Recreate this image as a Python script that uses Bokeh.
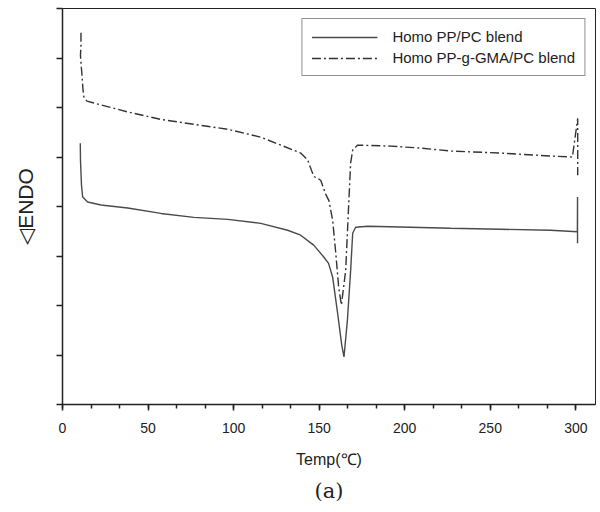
from bokeh.plotting import figure
from bokeh.models import Range1d, SingleIntervalTicker, FixedTicker, Legend, LegendItem, Title
from bokeh.embed import file_html
from bokeh.resources import INLINE

# Homo PP/PC blend (solid)
temp_pp_pc = [10.4, 10.5, 11.1, 11.8, 14.7, 22.5, 38.1, 57.5, 76.8, 96.6, 115.9, 131.6,
              139.2, 146.8, 152.7, 155.5, 157.9, 160.8, 163.2, 164.5, 166.5, 168.4, 169.6,
              171.3, 178.4, 203.5, 226.8, 256.0, 285.2, 300.9, 301.0, 301.0]
heat_pp_pc = [5.28, 4.94, 4.43, 4.19, 4.09, 4.03, 3.97, 3.86, 3.78, 3.74, 3.66, 3.52,
              3.42, 3.22, 2.98, 2.85, 2.57, 1.84, 1.20, 0.96, 1.70, 2.71, 3.46,
              3.58, 3.60, 3.58, 3.56, 3.54, 3.52, 3.49, 4.19, 3.26]

# Homo PP-g-GMA/PC blend (dash-dot)
temp_gma = [10.8, 10.8, 10.5, 10.8, 11.4, 12.0, 12.6, 14.3, 18.4, 38.2, 57.5, 76.8, 96.6,
            115.9, 127.6, 139.2, 143.3, 146.8, 150.9, 153.8, 155.7, 157.9, 159.7, 161.4,
            163.0, 165.5, 167.3, 168.4, 169.6, 172.5, 191.8, 209.3, 226.8, 256.0, 285.2,
            298.0, 301.1, 301.1]
heat_gma = [7.51, 7.26, 7.06, 6.90, 6.65, 6.35, 6.19, 6.13, 6.09, 5.91, 5.76, 5.66, 5.56,
            5.40, 5.24, 5.08, 4.94, 4.61, 4.53, 4.25, 4.12, 3.72, 3.06, 2.37,
            2.01, 2.71, 4.07, 4.88, 5.14, 5.24, 5.22, 5.18, 5.12, 5.08, 5.02,
            5.00, 5.78, 4.63]

series_labels = ["Homo PP/PC blend", "Homo PP-g-GMA/PC blend"]
x_title = "Temp(\u2103)"
y_title = "\u25c1ENDO"
caption = "(a)"
y_ticks = [0, 1, 2, 3, 4, 5, 6, 7, 8]

FONT = "Liberation Sans"

p = figure(width=596, height=508, x_range=Range1d(0, 311.5), y_range=Range1d(0, 8),
           output_backend="svg", toolbar_location=None,
           min_border_left=62, min_border_right=1, min_border_top=8, min_border_bottom=0)
p.background_fill_color = "white"
p.border_fill_color = "white"
p.outline_line_color = "#222222"
p.outline_line_width = 1
p.xgrid.visible = False
p.ygrid.visible = False

r1 = p.line(temp_pp_pc, heat_pp_pc, line_color="#4a4a4a", line_width=1.4)
r2 = p.line(temp_gma, heat_gma, line_color="#333333", line_width=1.4, line_dash="9 3 2 3")

xa = p.xaxis[0]
xa.ticker = SingleIntervalTicker(interval=50, num_minor_ticks=3)
xa.axis_line_color = "#222222"
xa.axis_line_width = 1.5
xa.major_tick_line_color = "#222222"
xa.major_tick_line_width = 1.5
xa.minor_tick_line_color = "#222222"
xa.minor_tick_line_width = 1.5
xa.major_tick_in = 0
xa.major_tick_out = 6
xa.minor_tick_in = 0
xa.minor_tick_out = 4
xa.major_label_text_font = FONT
xa.major_label_text_font_size = "14px"
xa.major_label_text_color = "#222222"
xa.major_label_standoff = 12
xa.axis_label = x_title
xa.axis_label_text_font = FONT
xa.axis_label_text_font_size = "16px"
xa.axis_label_text_font_style = "normal"
xa.axis_label_text_color = "#222222"
xa.axis_label_standoff = 15

ya = p.yaxis[0]
ya.ticker = FixedTicker(ticks=y_ticks, minor_ticks=[])
ya.axis_line_color = "#222222"
ya.axis_line_width = 1.5
ya.major_tick_line_color = "#222222"
ya.major_tick_line_width = 1.5
ya.major_tick_in = 0
ya.major_tick_out = 6
ya.major_label_text_font_size = "0px"
ya.major_label_standoff = 0
ya.axis_label = y_title
ya.axis_label_text_font = FONT
ya.axis_label_text_font_size = "21px"
ya.axis_label_text_font_style = "normal"
ya.axis_label_text_color = "#222222"
ya.axis_label_standoff = 20

legend = Legend(items=[LegendItem(label=series_labels[0], renderers=[r1]),
                       LegendItem(label=series_labels[1], renderers=[r2])],
                location="top_right", margin=10, padding=9, spacing=4,
                glyph_width=66, glyph_height=16, label_standoff=15,
                label_text_font=FONT, label_text_font_size="15px", label_text_color="#222222",
                border_line_color="#222222", border_line_width=1,
                background_fill_color="white", background_fill_alpha=1)
p.add_layout(legend)

cap = Title(text=caption, align="center", offset=-8, text_font="DejaVu Serif",
            text_font_size="21px", text_font_style="normal", text_color="#222222",
            standoff=12)
p.add_layout(cap, "below")

open("out.html", "w").write(file_html(p, INLINE))
